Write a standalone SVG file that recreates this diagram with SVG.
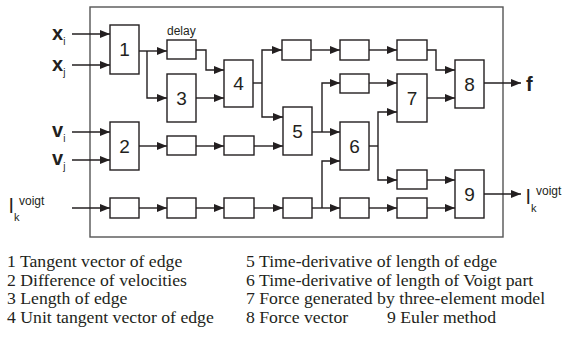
<svg xmlns="http://www.w3.org/2000/svg" width="562" height="337" viewBox="0 0 562 337">
<style>
.b{fill:#fff;stroke:#231f20;stroke-width:1.4}
.c{fill:none;stroke:#231f20;stroke-width:1.4}
.n{font-family:"Liberation Sans",Arial,sans-serif;font-size:19px;fill:#231f20;text-anchor:middle}
.s{font-family:"Liberation Sans",Arial,sans-serif;fill:#231f20}
.lg{font-family:"Liberation Serif","Times New Roman",serif;font-size:17.7px;fill:#231f20}
</style>
<defs>
<marker id="ah" markerUnits="userSpaceOnUse" markerWidth="10" markerHeight="8" refX="10" refY="4" orient="auto">
<path d="M0,0 L10,4 L0,8 z" fill="#231f20"/>
</marker>
</defs>
<rect id="frame" x="90" y="7" width="413" height="230" fill="none" stroke="#555" stroke-width="1.4"/>
<g id="connectors" class="c">
<path d="M72,34 H110" marker-end="url(#ah)"/>
<path d="M72,65 H110" marker-end="url(#ah)"/>
<path d="M139,51 H167" marker-end="url(#ah)"/>
<path d="M147,51 V98 H167" marker-end="url(#ah)"/>
<path d="M196,50 H206 V70 H224" marker-end="url(#ah)"/>
<path d="M196,98 H224" marker-end="url(#ah)"/>
<path d="M253,83 H262"/>
<path d="M262,83 V50 H282" marker-end="url(#ah)"/>
<path d="M262,83 V117 H283" marker-end="url(#ah)"/>
<path d="M311,50 H340" marker-end="url(#ah)"/>
<path d="M369,50 H397" marker-end="url(#ah)"/>
<path d="M427,50 H436 V70 H455" marker-end="url(#ah)"/>
<path d="M72,132 H110" marker-end="url(#ah)"/>
<path d="M72,160 H110" marker-end="url(#ah)"/>
<path d="M139,146 H167" marker-end="url(#ah)"/>
<path d="M196,146 H224" marker-end="url(#ah)"/>
<path d="M254,146 H283" marker-end="url(#ah)"/>
<path d="M312,132 H340" marker-end="url(#ah)"/>
<path d="M322,132 V83 H340" marker-end="url(#ah)"/>
<path d="M369,83 H397" marker-end="url(#ah)"/>
<path d="M369,146 H378"/>
<path d="M378,146 V112 H397" marker-end="url(#ah)"/>
<path d="M378,146 V180 H397" marker-end="url(#ah)"/>
<path d="M427,98 H455" marker-end="url(#ah)"/>
<path d="M484,83 H521" marker-end="url(#ah)"/>
<path d="M72,208 H110" marker-end="url(#ah)"/>
<path d="M139,208 H167" marker-end="url(#ah)"/>
<path d="M196,208 H224" marker-end="url(#ah)"/>
<path d="M254,208 H283" marker-end="url(#ah)"/>
<path d="M312,208 H340" marker-end="url(#ah)"/>
<path d="M322,208 V161 H340" marker-end="url(#ah)"/>
<path d="M369,208 H397" marker-end="url(#ah)"/>
<path d="M427,208 H455" marker-end="url(#ah)"/>
<path d="M427,180 H455" marker-end="url(#ah)"/>
<path d="M484,194 H521" marker-end="url(#ah)"/>
</g>
<g id="n1"><rect class="b" x="110" y="25" width="29" height="49"/><text class="n" x="124.5" y="56">1</text></g>
<g id="n2"><rect class="b" x="110" y="122" width="29" height="48"/><text class="n" x="124.5" y="153">2</text></g>
<g id="n3"><rect class="b" x="167" y="74" width="29" height="48"/><text class="n" x="181.5" y="105">3</text></g>
<g id="n4"><rect class="b" x="224" y="60" width="29" height="47"/><text class="n" x="238.5" y="90">4</text></g>
<g id="n5"><rect class="b" x="283" y="107" width="29" height="48"/><text class="n" x="297.5" y="138">5</text></g>
<g id="n6"><rect class="b" x="340" y="122" width="29" height="48"/><text class="n" x="354.5" y="153">6</text></g>
<g id="n7"><rect class="b" x="397" y="74" width="30" height="48"/><text class="n" x="412" y="105">7</text></g>
<g id="n8"><rect class="b" x="455" y="60" width="29" height="48"/><text class="n" x="469.5" y="91">8</text></g>
<g id="n9"><rect class="b" x="455" y="170" width="29" height="48"/><text class="n" x="469.5" y="201">9</text></g>
<g id="delay"><rect class="b" x="167" y="40" width="29" height="19"/><text class="s" x="167" y="35" font-size="12">delay</text></g>
<g id="t1"><rect class="b" x="282" y="40" width="29" height="20"/></g>
<g id="t2"><rect class="b" x="340" y="40" width="29" height="20"/></g>
<g id="t3"><rect class="b" x="397" y="40" width="30" height="20"/></g>
<g id="m1"><rect class="b" x="340" y="74" width="29" height="19"/></g>
<g id="r2a"><rect class="b" x="167" y="136" width="29" height="19"/></g>
<g id="r2b"><rect class="b" x="224" y="136" width="30" height="19"/></g>
<g id="e1"><rect class="b" x="397" y="170" width="30" height="19"/></g>
<g id="l1"><rect class="b" x="110" y="198" width="29" height="20"/></g>
<g id="l2"><rect class="b" x="167" y="198" width="29" height="20"/></g>
<g id="l3"><rect class="b" x="224" y="198" width="30" height="20"/></g>
<g id="l4"><rect class="b" x="283" y="198" width="29" height="20"/></g>
<g id="l5"><rect class="b" x="340" y="198" width="29" height="20"/></g>
<g id="l6"><rect class="b" x="397" y="198" width="30" height="20"/></g>
<g id="in-x">
<text class="s" x="52" y="40" font-size="20" font-weight="bold">x<tspan font-size="10" font-weight="normal" dy="5">i</tspan></text>
<text class="s" x="52" y="71" font-size="20" font-weight="bold">x<tspan font-size="10" font-weight="normal" dy="5">j</tspan></text>
</g>
<g id="in-v">
<text class="s" x="52" y="137" font-size="20" font-weight="bold">v<tspan font-size="10" font-weight="normal" dy="5">i</tspan></text>
<text class="s" x="52" y="165" font-size="20" font-weight="bold">v<tspan font-size="10" font-weight="normal" dy="5">j</tspan></text>
</g>
<g id="in-l">
<text class="s" x="9" y="213" font-size="20">l</text>
<text class="s" x="14" y="221" font-size="11">k</text>
<text class="s" x="19" y="205" font-size="12">voigt</text>
</g>
<g id="out-f"><text class="s" x="526" y="91" font-size="20" font-weight="bold">f</text></g>
<g id="out-l">
<text class="s" x="526" y="204" font-size="20">l</text>
<text class="s" x="531" y="212" font-size="11">k</text>
<text class="s" x="536" y="195" font-size="12">voigt</text>
</g>
<g id="legend">
<text class="lg" x="7" y="267">1 Tangent vector of edge</text>
<text class="lg" x="7" y="285.5">2 Difference of velocities</text>
<text class="lg" x="7" y="304">3 Length of edge</text>
<text class="lg" x="7" y="322.5">4 Unit tangent vector of edge</text>
<text class="lg" x="246" y="267">5 Time-derivative of length of edge</text>
<text class="lg" x="246" y="285.5">6 Time-derivative of length of Voigt part</text>
<text class="lg" x="246" y="304">7 Force generated by three-element model</text>
<text class="lg" x="246" y="322.5">8 Force vector</text>
<text class="lg" x="387" y="322.5">9 Euler method</text>
</g>
</svg>
